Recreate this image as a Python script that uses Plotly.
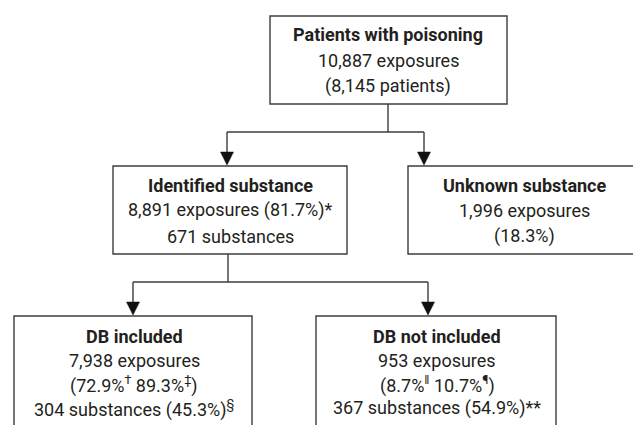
import plotly.graph_objects as go

# ---- data: node texts ----
top_lines = ["<b>Patients with poisoning</b>", "10,887 exposures", "(8,145 patients)"]
ident_lines = ["<b>Identified substance</b>", "8,891 exposures (81.7%)*", "671 substances"]
unknown_lines = ["<b>Unknown substance</b>", "1,996 exposures", "(18.3%)"]
dbin_lines = ["<b>DB included</b>", "7,938 exposures", "(72.9%<sup>†</sup> 89.3%<sup>‡</sup>)",
              "304 substances (45.3%)<sup>§</sup>"]
dbout_lines = ["<b>DB not included</b>", "953 exposures", "(8.7%<sup>ǁ</sup> 10.7%<sup>¶</sup>)",
               "367 substances (54.9%)**"]

W, H = 641, 425
OFF = 8  # page body margin
LC = "#3c3c3c"
TC = "#231f20"
FONT = "Roboto, Liberation Sans, sans-serif"
FS = 18

# box geometry (x0, y0, x1, y1) in page pixels, y downward
boxes = {
    "top": (270, 16, 507, 104),
    "ident": (113, 166, 347, 254),
    "unknown": (408, 166, 640, 254),
    "dbin": (14, 316, 252, 440),
    "dbout": (316, 316, 556, 440),
}
texts = [
    (top_lines, 388, [34, 60, 86]),
    (ident_lines, 230, [185, 210, 236]),
    (unknown_lines, 524, [185, 210, 236]),
    (dbin_lines, 134, [336, 360, 384, 408]),
    (dbout_lines, 437, [336, 360, 384, 408]),
]

shapes = []
for (x0, y0, x1, y1) in boxes.values():
    shapes.append(dict(type="rect", x0=x0, y0=y0, x1=x1, y1=y1,
                       line=dict(color=LC, width=1.4), fillcolor="rgba(0,0,0,0)"))

def line(x0, y0, x1, y1):
    shapes.append(dict(type="line", x0=x0, y0=y0, x1=x1, y1=y1,
                       line=dict(color=LC, width=1.4)))

def arrow_down(x, y_from, y_tip):
    line(x, y_from, x, y_tip - 10)
    shapes.append(dict(type="path",
                       path=f"M {x-6.5},{y_tip-13} L {x+6.5},{y_tip-13} L {x},{y_tip} Z",
                       fillcolor="#111111", line=dict(color="#111111", width=0.5)))

# connectors level 1
line(388, 104, 388, 132)
line(227, 132, 424, 132)
arrow_down(227, 132, 165)
arrow_down(424, 132, 165)
# connectors level 2
line(228, 254, 228, 282)
line(133, 282, 428, 282)
arrow_down(133, 282, 315)
arrow_down(428, 282, 315)

annotations = []
for lines, cx, ys in texts:
    for t, y in zip(lines, ys):
        annotations.append(dict(x=cx, y=y, text=t, showarrow=False, xanchor="center",
                                yanchor="middle", font=dict(family=FONT, size=FS, color=TC)))

fig = go.Figure()
fig.update_layout(
    width=W - OFF, height=H - OFF, margin=dict(l=0, r=0, t=0, b=0),
    paper_bgcolor="white", plot_bgcolor="white",
    xaxis=dict(range=[OFF, W], visible=False, fixedrange=True),
    yaxis=dict(range=[H, OFF], visible=False, fixedrange=True),
    shapes=shapes, annotations=annotations, showlegend=False,
)
fig.write_html("out.html")
